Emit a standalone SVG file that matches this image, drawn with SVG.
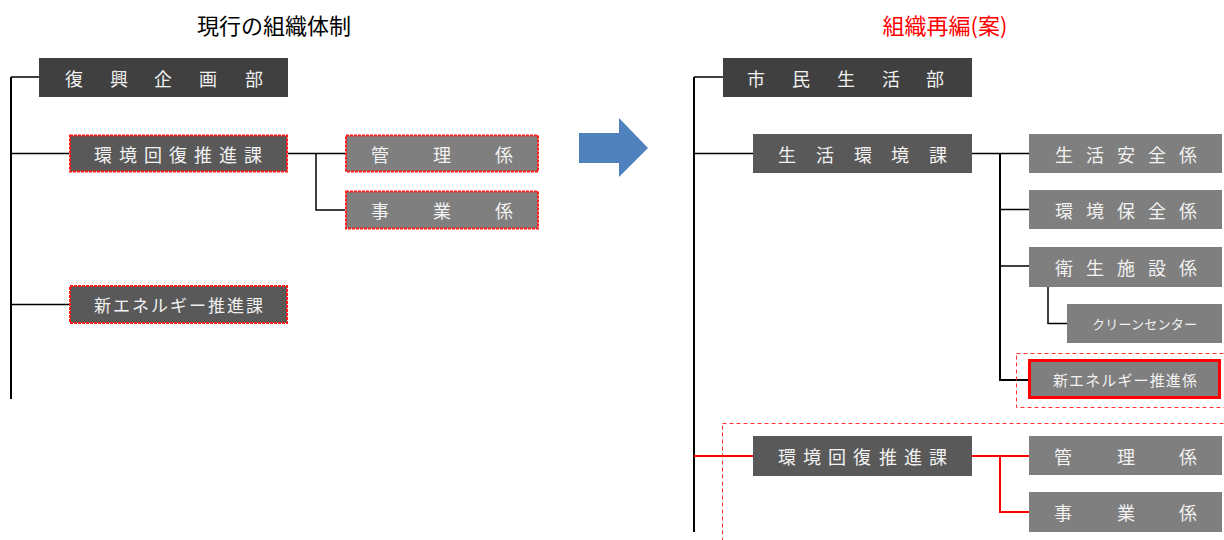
<svg xmlns="http://www.w3.org/2000/svg" width="1224" height="540" viewBox="0 0 1224 540">
<style>
.bg{fill:#FFFFFF}
.dept{fill:#404040}
.sect{fill:#595959}
.kakari{fill:#7F7F7F}
.redbox{stroke:#FF1A1A;stroke-width:2;stroke-dasharray:3 1}
.newbox{stroke:#FF0000;stroke-width:3}
.lbl{font-family:"Noto Sans CJK JP","Noto Sans CJK SC",sans-serif;fill:#F2F2F2;dominant-baseline:central;text-anchor:middle}
.lblL{font-family:"Noto Sans CJK JP","Noto Sans CJK SC",sans-serif;fill:#F2F2F2;dominant-baseline:central}
.title{font-family:"Noto Sans CJK JP","Noto Sans CJK SC",sans-serif;font-size:22px;text-anchor:middle}
.ln{stroke:#000000;stroke-width:1.5;fill:none}
.lnm{stroke:#000000;stroke-width:2;fill:none}
.lnr{stroke:#FF0000;stroke-width:2;fill:none}
.dash{stroke:#FF3030;stroke-width:1;stroke-dasharray:4 3;fill:none}
</style>
<rect class="bg" x="0" y="0" width="1224" height="540"/>

<text class="title" x="274" y="34" fill="#000000">現行の組織体制</text>
<text class="title" x="945" y="34" fill="#FF0000">組織再編(案)</text>

<g id="arrow">
<polygon points="579,133 619,133 619,118 648,148 619,177 619,163 579,163" fill="#4F81BD"/>
</g>

<g id="connectors">
<!-- left -->
<path class="lnm" d="M11,77 V399"/>
<path class="ln" d="M11,77 H39"/>
<path class="ln" d="M11,153.5 H69"/>
<path class="ln" d="M11,304.5 H69"/>
<path class="ln" d="M288,153.5 H345"/>
<path class="ln" d="M316,153.5 V210 H345"/>
<!-- right -->
<path class="lnm" d="M694,77 V532"/>
<path class="ln" d="M694,77 H723"/>
<path class="ln" d="M694,153.5 H753"/>
<path class="ln" d="M972,153.5 H1029"/>
<path class="lnm" d="M1000,153.5 V380 H1029"/>
<path class="ln" d="M1000,209.5 H1029"/>
<path class="ln" d="M1000,266 H1029"/>
<path class="ln" d="M1048,287 V323.5 H1067"/>
<path class="lnr" d="M694,456 H753"/>
<path class="lnr" d="M972,456 H1029"/>
<path class="lnr" d="M1000,456 V512 H1029"/>
<rect class="dash" x="1016.5" y="353.5" width="215" height="54"/>
<rect class="dash" x="722.5" y="423.5" width="510" height="130"/>
</g>

<!-- left nodes -->
<g id="n-fukko">
<rect class="dept" x="39" y="58" width="249" height="39"/>
<text class="lbl" font-size="18" x="74 119 163 208 254" y="77.5 77.5 77.5 77.5 77.5">復興企画部</text>
</g>
<g id="n-kankyo-l">
<rect class="sect redbox" x="70" y="135.5" width="217" height="36"/>
<text class="lbl" font-size="18" x="103 128 153 178 203 228 253" y="153.5 153.5 153.5 153.5 153.5 153.5 153.5">環境回復推進課</text>
</g>
<g id="n-kanri-l">
<rect class="kakari redbox" x="346" y="135.5" width="192" height="36"/>
<text class="lbl" font-size="18" x="380 442 504" y="153.5 153.5 153.5">管理係</text>
</g>
<g id="n-jigyo-l">
<rect class="kakari redbox" x="346" y="191.5" width="192" height="37"/>
<text class="lbl" font-size="18" x="380 442 504" y="210 210 210">事業係</text>
</g>
<g id="n-shinene-l">
<rect class="sect redbox" x="70" y="286" width="217" height="37"/>
<text class="lblL" font-size="17" x="94" y="304.5" textLength="169" lengthAdjust="spacing">新エネルギー推進課</text>
</g>

<!-- right nodes -->
<g id="n-shimin">
<rect class="dept" x="723" y="58" width="249" height="39"/>
<text class="lbl" font-size="18" x="756 801 846 891 935" y="77.5 77.5 77.5 77.5 77.5">市民生活部</text>
</g>
<g id="n-seikatsu">
<rect class="sect" x="753" y="134" width="219" height="39"/>
<text class="lbl" font-size="18" x="787 825 863 900 938" y="153.5 153.5 153.5 153.5 153.5">生活環境課</text>
</g>
<g id="n-anzen">
<rect class="kakari" x="1029" y="134" width="193" height="39"/>
<text class="lbl" font-size="18" x="1064 1095 1126 1157 1188" y="153.5 153.5 153.5 153.5 153.5">生活安全係</text>
</g>
<g id="n-hozen">
<rect class="kakari" x="1029" y="190" width="193" height="39"/>
<text class="lbl" font-size="18" x="1064 1095 1126 1157 1188" y="209.5 209.5 209.5 209.5 209.5">環境保全係</text>
</g>
<g id="n-eisei">
<rect class="kakari" x="1029" y="247" width="193" height="40"/>
<text class="lbl" font-size="18" x="1064 1095 1126 1157 1188" y="266.5 266.5 266.5 266.5 266.5">衛生施設係</text>
</g>
<g id="n-clean">
<rect class="kakari" x="1067" y="304" width="155" height="39"/>
<text class="lblL" font-size="13" x="1092" y="323.5" textLength="105" lengthAdjust="spacing">クリーンセンター</text>
</g>
<g id="n-shinene-r">
<rect class="kakari newbox" x="1029.5" y="360.5" width="190" height="37"/>
<text class="lblL" font-size="15" x="1053" y="379.5" textLength="144" lengthAdjust="spacing">新エネルギー推進係</text>
</g>
<g id="n-kankyo-r">
<rect class="sect" x="753" y="436" width="219" height="40"/>
<text class="lbl" font-size="18" x="787 812 837 862 888 913 938" y="456 456 456 456 456 456 456">環境回復推進課</text>
</g>
<g id="n-kanri-r">
<rect class="kakari" x="1029" y="436" width="193" height="39"/>
<text class="lbl" font-size="18" x="1063 1126 1188" y="455.5 455.5 455.5">管理係</text>
</g>
<g id="n-jigyo-r">
<rect class="kakari" x="1029" y="492" width="193" height="40"/>
<text class="lbl" font-size="18" x="1063 1126 1188" y="512 512 512">事業係</text>
</g>
</svg>
